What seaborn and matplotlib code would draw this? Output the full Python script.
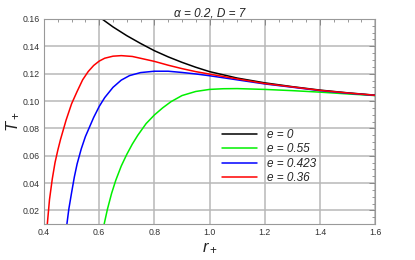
import numpy as np
import pandas as pd
import matplotlib
matplotlib.use('Agg')
from matplotlib import pyplot as plt
from matplotlib.ticker import MultipleLocator
import seaborn as sns

# values
r_e0 = [0.60, 0.65, 0.70, 0.75, 0.80, 0.85, 0.90, 0.95, 1.00, 1.10, 1.20, 1.30, 1.40, 1.50, 1.60]
T_e0 = [0.1615, 0.1542, 0.1478, 0.1421, 0.1368, 0.1323, 0.1283, 0.1247, 0.1215, 0.1168, 0.1133,
        0.1105, 0.1080, 0.1060, 0.1043]

r_e055 = [0.618, 0.63, 0.645, 0.66, 0.68, 0.70, 0.72, 0.74, 0.77, 0.80, 0.83, 0.86, 0.90, 0.95,
          1.00, 1.05, 1.10, 1.20, 1.30, 1.40, 1.50, 1.60]
T_e055 = [0.010, 0.021, 0.0325, 0.042, 0.0525, 0.061, 0.0685, 0.075, 0.0835, 0.0898, 0.0950,
          0.0995, 0.1040, 0.1070, 0.1085, 0.1090, 0.1091, 0.1085, 0.1076, 0.1065, 0.1052, 0.1040]

r_e0423 = [0.483, 0.49, 0.50, 0.51, 0.52, 0.535, 0.55, 0.565, 0.58, 0.60, 0.62, 0.65, 0.68, 0.71,
           0.75, 0.80, 0.85, 0.90, 0.95, 1.00, 1.10, 1.20, 1.30, 1.40, 1.50, 1.60]
T_e0423 = [0.010, 0.021, 0.033, 0.0445, 0.054, 0.065, 0.074, 0.081, 0.088, 0.096, 0.1025, 0.110,
           0.1153, 0.1186, 0.1208, 0.1218, 0.1218, 0.1209, 0.1198, 0.1185, 0.1155, 0.1125, 0.1101,
           0.1076, 0.1057, 0.1041]

r_e036 = [0.412, 0.42, 0.43, 0.44, 0.45, 0.46, 0.47, 0.48, 0.50, 0.52, 0.54, 0.56, 0.58, 0.60,
          0.62, 0.65, 0.68, 0.72, 0.76, 0.80, 0.85, 0.90, 0.95, 1.00, 1.10, 1.20, 1.30, 1.40,
          1.50, 1.60]
T_e036 = [0.010, 0.028, 0.043, 0.055, 0.064, 0.072, 0.079, 0.086, 0.098, 0.107, 0.1155, 0.1215,
          0.126, 0.1292, 0.1313, 0.1328, 0.1332, 0.1326, 0.1308, 0.129, 0.1262, 0.1237, 0.1215,
          0.1197, 0.1162, 0.1128, 0.1103, 0.1078, 0.1059, 0.1042]

labels = ['e = 0', 'e = 0.55', 'e = 0.423', 'e = 0.36']
colors = ['#000000', '#00f000', '#0000ff', '#ff0000']

frames = []
for lab, r, T in zip(labels, [r_e0, r_e055, r_e0423, r_e036], [T_e0, T_e055, T_e0423, T_e036]):
    frames.append(pd.DataFrame({'r': r, 'T': T, 'e': lab}))
df = pd.concat(frames, ignore_index=True)

sns.set_theme(style='white')
plt.rcParams['font.family'] = ['Liberation Sans', 'DejaVu Sans']
plt.rcParams['mathtext.fontset'] = 'custom'
plt.rcParams['mathtext.it'] = 'Liberation Sans:italic'
plt.rcParams['mathtext.rm'] = 'Liberation Sans'

fig = plt.figure(figsize=(4.15, 2.6), dpi=100)
ax = fig.add_axes([0.106, 0.138, 0.798, 0.789])

sns.lineplot(data=df, x='r', y='T', hue='e', hue_order=labels,
             palette=dict(zip(labels, colors)), linewidth=1.1, sort=False,
             estimator=None, ax=ax)

ax.set_xlim(0.4, 1.6)
ax.set_ylim(0.01, 0.16)
ax.xaxis.set_major_locator(MultipleLocator(0.2))
ax.xaxis.set_minor_locator(MultipleLocator(0.05))
ax.yaxis.set_major_locator(MultipleLocator(0.02))
ax.yaxis.set_minor_locator(MultipleLocator(0.005))
ax.set_xticks(np.arange(0.4, 1.61, 0.2))
ax.set_xticklabels(['0.4', '0.6', '0.8', '1.0', '1.2', '1.4', '1.6'])
ax.set_yticks(np.arange(0.02, 0.161, 0.02))
ax.set_yticklabels(['0.02', '0.04', '0.06', '0.08', '0.10', '0.12', '0.14', '0.16'])

ax.grid(True, which='major', color='#b8b8b8', linewidth=1.1)
ax.tick_params(which='both', direction='in', top=True, right=True, colors='#888888',
               labelcolor='#333333', labelsize=6.3, pad=3)
ax.tick_params(which='major', length=4, width=0.7)
ax.tick_params(which='minor', length=2, width=0.6)
for s in ax.spines.values():
    s.set_color('#999999')
    s.set_linewidth(0.8)

ax.set_xlabel('$r_+$', fontsize=12, color='#222222', labelpad=2)
ax.set_ylabel('$T_+$', fontsize=12, color='#222222', labelpad=1)
ax.set_title('α = 0.2, D = 7', fontsize=8.5, fontstyle='italic', color='#222222', pad=2)

leg = ax.legend(loc='upper left', bbox_to_anchor=(0.505, 0.515), frameon=False,
                fontsize=8.5, handlelength=3.0, handletextpad=0.8, labelspacing=0.2)
for t in leg.get_texts():
    t.set_fontstyle('italic')

fig.savefig('out.png', dpi=100)
